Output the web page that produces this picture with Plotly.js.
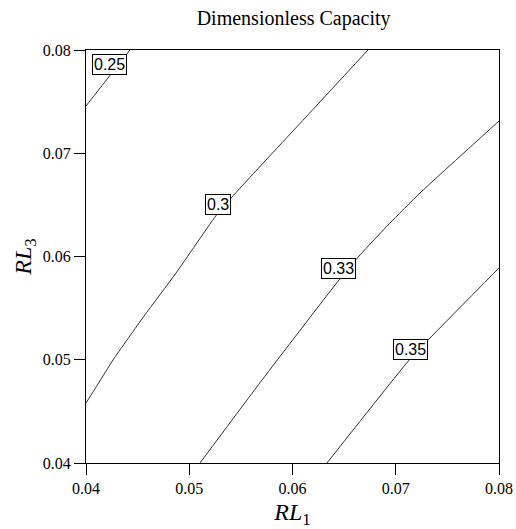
<!DOCTYPE html>
<html>
<head>
<meta charset="utf-8">
<script src="https://cdn.plot.ly/plotly-3.0.1.min.js"></script>
<style>html,body{margin:0;padding:0;background:#fff;}#chart{width:516px;height:529px;}</style>
</head>
<body>
<div id="chart"></div>
<script>
// Contour levels and traced contour lines (RL1 on x, RL3 on y)
var levels = ["0.25", "0.3", "0.33", "0.35"];
var x025 = [0.04000, 0.04213, 0.04426];
var y025 = [0.07458, 0.07729, 0.08000];
var x030 = [0.04000, 0.04116, 0.04262, 0.04560, 0.04872, 0.05278, 0.05511, 0.06121, 0.06731];
var y030 = [0.04581, 0.04765, 0.04998, 0.05420, 0.05840, 0.06421, 0.06683, 0.07341, 0.08000];
var x033 = [0.05104, 0.05705, 0.06450, 0.06654, 0.06940, 0.07235, 0.08000];
var y033 = [0.04000, 0.04804, 0.05772, 0.06015, 0.06320, 0.06615, 0.07312];
var x035 = [0.06334, 0.07138, 0.07332, 0.08000];
var y035 = [0.04000, 0.05007, 0.05211, 0.05889];
// label positions on the lines
var labelX = [0.04223, 0.05278, 0.06441, 0.07138];
var labelY = [0.07855, 0.06508, 0.05879, 0.05104];
var xTicks = [0.04, 0.05, 0.06, 0.07, 0.08];
var yTicks = [0.04, 0.05, 0.06, 0.07, 0.08];

var lines = [[x025, y025], [x030, y030], [x033, y033], [x035, y035]];
var traces = lines.map(function (l, i) {
  return {
    x: l[0], y: l[1], type: 'scatter', mode: 'lines', name: levels[i],
    line: {color: '#333333', width: 1, shape: 'spline', smoothing: 0.5},
    hoverinfo: 'skip', showlegend: false
  };
});

var annotations = levels.map(function (t, i) {
  return {
    x: labelX[i], y: labelY[i], xref: 'x', yref: 'y', text: t, showarrow: false,
    font: {family: 'Liberation Sans', size: 16, color: '#000'},
    bgcolor: '#ffffff', bordercolor: '#000000', borderwidth: 1, borderpad: 1
  };
});

var serif = 'Liberation Serif';
var layout = {
  width: 516, height: 529,
  margin: {l: 86, r: 17, t: 50, b: 66},
  paper_bgcolor: '#ffffff', plot_bgcolor: '#ffffff',
  title: {text: 'Dimensionless Capacity', font: {family: serif, size: 20, color: '#000'},
          x: 0.569, xanchor: 'center', y: 0.966, yanchor: 'middle'},
  xaxis: {
    range: [0.04, 0.08], tickvals: xTicks, ticktext: xTicks.map(function (v) { return v.toFixed(2); }),
    ticks: 'outside', ticklen: 11, tickwidth: 1, tickcolor: '#000',
    showline: true, linecolor: '#000', linewidth: 1, mirror: true,
    showgrid: false, zeroline: false,
    tickfont: {family: serif, size: 16, color: '#000'},
    title: {text: '<i>RL</i><sub>1</sub>', font: {family: serif, size: 24, color: '#000'}, standoff: 6}
  },
  yaxis: {
    range: [0.04, 0.08], tickvals: yTicks, ticktext: yTicks.map(function (v) { return v.toFixed(2); }),
    ticks: 'outside', ticklen: 11, tickwidth: 1, tickcolor: '#000',
    showline: true, linecolor: '#000', linewidth: 1, mirror: true,
    showgrid: false, zeroline: false,
    tickfont: {family: serif, size: 16, color: '#000'},
    title: {text: '<i>RL</i><sub>3</sub>', font: {family: serif, size: 24, color: '#000'}, standoff: 4}
  },
  annotations: annotations
};

Plotly.newPlot('chart', traces, layout, {displayModeBar: false, staticPlot: true});
</script>
</body>
</html>
